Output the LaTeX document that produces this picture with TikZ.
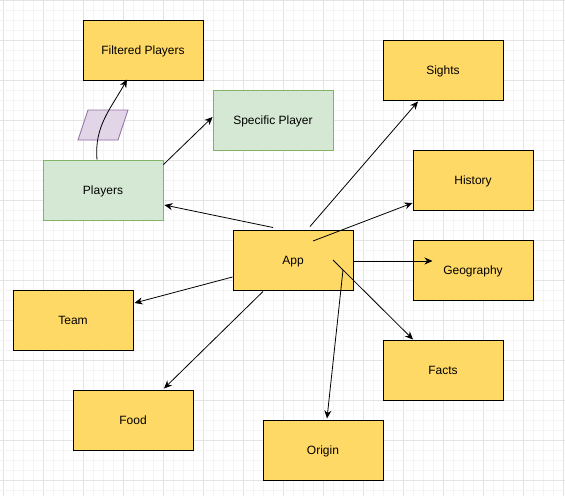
\documentclass[tikz,border=0pt]{standalone}
\usepackage{fontspec}
\setmainfont{Liberation Sans}
\usetikzlibrary{arrows.meta,positioning}
\definecolor{topicfill}{HTML}{FFD966}
\definecolor{playerfill}{HTML}{D5E8D4}
\definecolor{playerline}{HTML}{82B366}
\definecolor{filterfill}{HTML}{E1D5E7}
\definecolor{filterline}{HTML}{9673A6}
\definecolor{gridminor}{HTML}{F4F4F4}
\definecolor{gridmajor}{HTML}{E4E4E4}

\begin{document}
\begin{tikzpicture}[x=1pt,y=-1pt,
    every node/.style={font=\fontsize{12}{14}\selectfont,text height=8.6pt,text depth=0pt},
    topic/.style={draw=black,fill=topicfill,line width=1pt,minimum width=120pt,minimum height=60pt,inner sep=0pt},
    player/.style={draw=playerline,fill=playerfill,line width=0.8pt,minimum width=120pt,minimum height=60pt,inner sep=0pt},
    filterbox/.style={draw=filterline,fill=filterfill,line width=0.8pt},
    link/.style={-{Stealth[length=8pt,width=7pt,inset=2.5pt]},line width=0.8pt}]
    \useasboundingbox (0,0) rectangle (565,496);
    \fill[white] (0,0) rectangle (565,496);

    % grid
    \foreach \k in {0,...,56} {
      \pgfmathtruncatemacro{\major}{mod(\k,4)==0}
      \ifnum\major=1 \draw[gridmajor,line width=0.8pt] (3+10*\k,0) -- (3+10*\k,496);
      \else \draw[gridminor,line width=0.8pt] (3+10*\k,0) -- (3+10*\k,496); \fi
    }
    \foreach \k in {0,...,49} {
      \pgfmathtruncatemacro{\major}{mod(\k,4)==0}
      \ifnum\major=1 \draw[gridmajor,line width=0.8pt] (0,10*\k) -- (565,10*\k);
      \else \draw[gridminor,line width=0.8pt] (0,10*\k) -- (565,10*\k); \fi
    }

    \node[topic] (filt) at (143,50) {Filtered Players};
    \node[player] (spec) at (273,120) {Specific Player};
    \node[player] (pla) at (103,190) {Players};
    % filter
    \draw[filterbox] (78,140) -- (88,110) -- (128,110) -- (118,140) -- cycle;
    \node[topic] (sig) at (443,70) {Sights};
    \node[topic] (his) at (473,180) {History};
    \node[topic] (app) at (293,260) {App};
    \node[topic] (geo) at (473,270) {Geography};
    \node[topic] (tea) at (73,320) {Team};
    \node[topic] (fac) at (443,370) {Facts};
    \node[topic] (foo) at (133,420) {Food};
    \node[topic] (ori) at (323,450) {Origin};

    \draw[link] ([xshift=-6pt]pla.north) to[out=95,in=241] ([xshift=-16pt,yshift=1pt]filt.south);
    \draw[link] ([yshift=-5pt]pla.north east) -- ([yshift=3pt]spec.west);
    \draw[link] ([xshift=-20pt,yshift=2pt]app.north) -- ([yshift=-15pt,xshift=1pt]pla.east);

    \draw[link] ([xshift=17pt,yshift=3pt]app.north) -- ([xshift=-25pt,yshift=-1pt]sig.south);
    \draw[link] ([xshift=20pt,yshift=19pt]app.center) -- ([yshift=-23pt]his.west);
    \draw[link] ([yshift=-1pt]app.east) -- ([xshift=20pt,yshift=9pt]geo.west);
    \draw[link] ([xshift=40pt]app.center) -- ([xshift=-30pt]fac.north);
    \draw[link] ([xshift=50pt,yshift=-10pt]app.center) -- ([xshift=4pt,yshift=1pt]ori.north);
    \draw[link] ([yshift=-17pt]app.west) -- ([xshift=1pt,yshift=17pt]tea.east);
    \draw[link] ([xshift=-30pt,yshift=-1pt]app.south) -- ([xshift=31pt,yshift=1pt]foo.north);
\end{tikzpicture}
\end{document}
